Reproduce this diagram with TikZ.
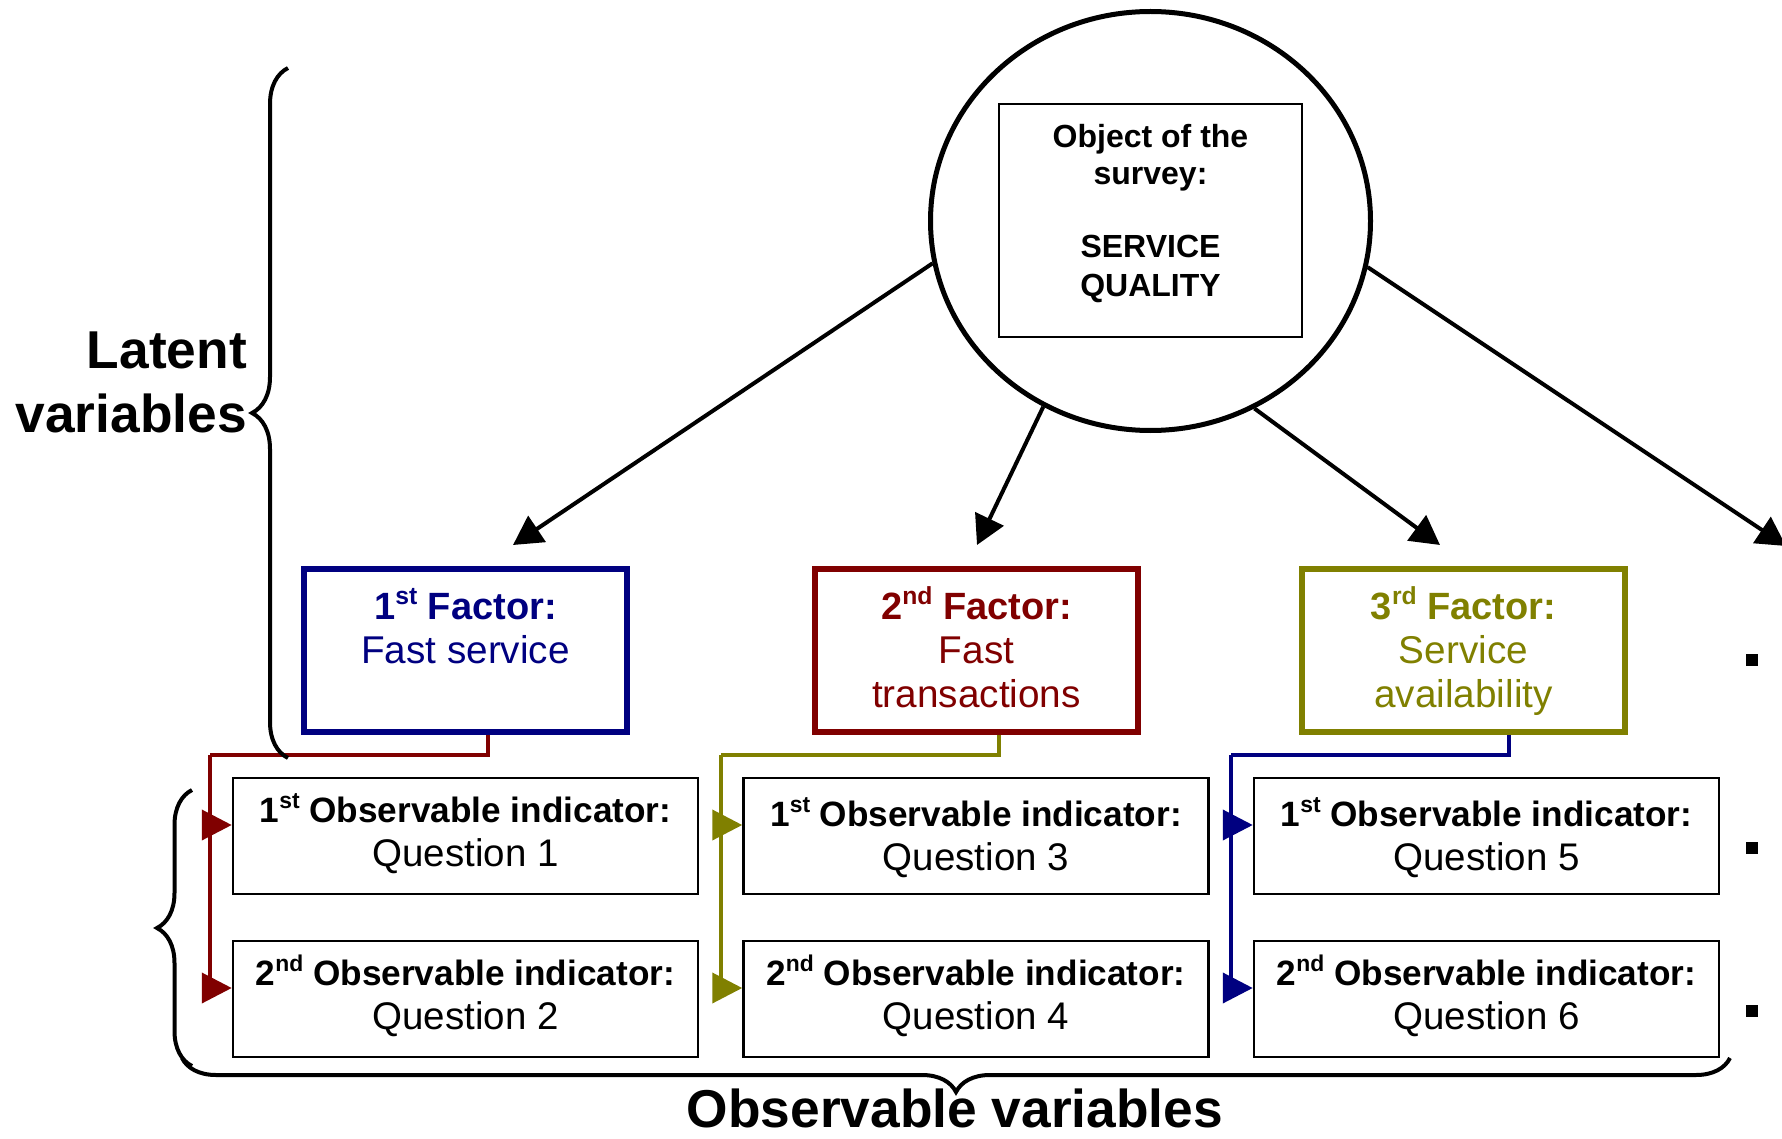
\documentclass[tikz,border=0pt]{standalone}
\usepackage{fontspec}
\setmainfont{Liberation Sans}
\usetikzlibrary{arrows.meta,shapes.geometric,decorations.pathreplacing,calc}
\definecolor{fnavy}{RGB}{0,0,128}
\definecolor{fmaroon}{RGB}{128,0,0}
\definecolor{folive}{RGB}{128,128,0}
\newcommand\supr[1]{\raisebox{0.38em}{\scalebox{0.65}{#1}}}
\newcommand\qbold{\fontsize{35.2}{44}\selectfont\bfseries}
\begin{document}
\begin{tikzpicture}[x=1pt,y=-1pt,
  objcirc/.style={ellipse, draw, line width=5pt, minimum width=440pt, minimum height=419pt, inner sep=0pt},
  objrect/.style={rectangle, draw, line width=2pt, minimum width=303pt, minimum height=233pt, inner sep=0pt},
  objtext/.style={align=center, inner sep=0pt, anchor=north, font=\fontsize{32}{37}\selectfont\bfseries},
  factorbox/.style={rectangle, draw=#1, line width=5.5pt, minimum width=323pt, minimum height=163pt, inner sep=0pt},
  factortext/.style={align=center, inner sep=0pt, anchor=north, text=#1, font=\fontsize{38.7}{44}\selectfont},
  qbox/.style={rectangle, draw, line width=2.5pt, minimum width=465pt, minimum height=116pt, inner sep=0pt},
  qtext/.style={align=center, inner sep=0pt, anchor=north, font=\fontsize{38.5}{44}\selectfont},
  bigarrow/.style={line width=4pt, -{Triangle[length=29pt,width=31pt]}},
  conn/.style={draw=#1, line width=4pt},
  connarrow/.style={draw=#1, line width=4pt, -{Triangle[length=30pt,width=30pt]}},
  bracestyle/.style={decorate, decoration={brace, amplitude=#1}, line width=4pt},
  sidelabel/.style={inner sep=0pt, font=\fontsize{53.3}{64}\selectfont\bfseries},
  dotmark/.style={rectangle, fill, minimum size=12pt, inner sep=0pt}
]
\useasboundingbox (0,0) rectangle (1782,1139);

% object of the survey
\node[objcirc] (obj) at (1150.5,221) {};
\node[objrect] (objbox) at (1150.5,220.5) {};
\node[objtext] (objtxt) at (1150.5,112) {\rule{0pt}{35pt}Object of the\\survey:\\[36pt]SERVICE\\[2pt]QUALITY};

% factor boxes
\node[factorbox=fnavy] (f1) at (465.5,650.5) {};
\node[factorbox=fmaroon] (f2) at (976.5,650.5) {};
\node[factorbox=folive] (f3) at (1463.5,650.5) {};
\node[factortext=fnavy] (f1t) at (465.5,579) {\rule{0pt}{40pt}{\fontsize{38}{44}\selectfont\bfseries 1\supr{st} Factor:}\\Fast service};
\node[factortext=fmaroon] (f2t) at (976.5,579) {\rule{0pt}{40pt}{\fontsize{38}{44}\selectfont\bfseries 2\supr{nd} Factor:}\\Fast\\transactions};
\node[factortext=folive] (f3t) at (1463.5,579) {\rule{0pt}{40pt}{\fontsize{38}{44}\selectfont\bfseries 3\supr{rd} Factor:}\\Service\\availability};

% question boxes
\node[qbox] (q1) at (465.5,836) {};
\node[qbox] (q2) at (465.5,999) {};
\node[qbox] (q3) at (976,836) {};
\node[qbox] (q4) at (976,999) {};
\node[qbox] (q5) at (1486.5,836) {};
\node[qbox] (q6) at (1486.5,999) {};
\node[qtext] (q1t) at (465.5,782) {\rule{0pt}{40pt}{\qbold 1\supr{st} Observable indicator:}\\Question 1};
\node[qtext] (q2t) at (465.5,945) {\rule{0pt}{40pt}{\qbold 2\supr{nd} Observable indicator:}\\Question 2};
\node[qtext] (q3t) at (976,786) {\rule{0pt}{40pt}{\qbold 1\supr{st} Observable indicator:}\\Question 3};
\node[qtext] (q4t) at (976,945) {\rule{0pt}{40pt}{\qbold 2\supr{nd} Observable indicator:}\\Question 4};
\node[qtext] (q5t) at (1486.5,786) {\rule{0pt}{40pt}{\qbold 1\supr{st} Observable indicator:}\\Question 5};
\node[qtext] (q6t) at (1486.5,945) {\rule{0pt}{40pt}{\qbold 2\supr{nd} Observable indicator:}\\Question 6};

% big arrows
\coordinate (t1) at (513,545);
\coordinate (t2) at (977,545);
\coordinate (t3) at (1440,545);
\coordinate (t4) at (1786,546);
\draw[bigarrow] (obj.191.8) -- (t1);
\draw[bigarrow] (obj.240.6) -- (t2);
\draw[bigarrow] (obj.299.8) -- (t3);
\draw[bigarrow] (obj.348.3) -- (t4);

% connectors
\coordinate (j1) at (210,755);
\coordinate (j2) at (720.5,755);
\coordinate (j3) at (1231,755);
\draw[conn=fmaroon] ([xshift=22.5pt]f1.south) |- (j1);
\draw[connarrow=fmaroon] (j1) |- ([yshift=11pt]q1.west);
\draw[connarrow=fmaroon] (j1) |- ([yshift=11pt]q2.west);
\draw[conn=folive] ([xshift=22.5pt]f2.south) |- (j2);
\draw[connarrow=folive] (j2) |- ([yshift=11pt]q3.west);
\draw[connarrow=folive] (j2) |- ([yshift=11pt]q4.west);
\draw[conn=fnavy] ([xshift=45.5pt]f3.south) |- (j3);
\draw[connarrow=fnavy] (j3) |- ([yshift=11pt]q5.west);
\draw[connarrow=fnavy] (j3) |- ([yshift=11pt]q6.west);

% braces and labels
\draw[bracestyle=36pt] (288,758) -- (288,68);
\draw[bracestyle=35pt] (192,1066) -- (192,790);
\draw[bracestyle=34pt] (1730,1058) -- (182,1058);
\node[sidelabel, align=right, anchor=north east] (latent) at (247,323) {\rule{0pt}{45pt}Latent\\variables};
\node[sidelabel, anchor=base] (observ) at (955,1127) {Observable variables};

% bullet marks
\node[dotmark] (d1) at (1752,660) {};
\node[dotmark] (d2) at (1752,848) {};
\node[dotmark] (d3) at (1752,1011) {};
\end{tikzpicture}
\end{document}
